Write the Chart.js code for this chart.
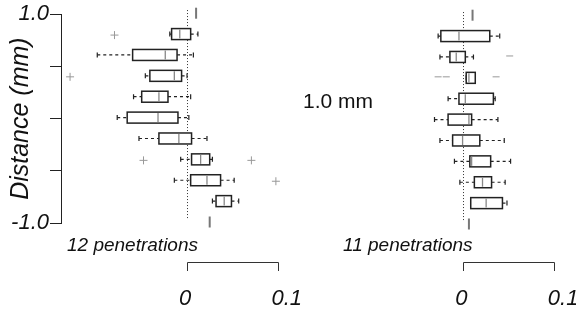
<!DOCTYPE html>
<html>
<head>
<meta charset="utf-8">
<script src="https://cdn.jsdelivr.net/npm/chart.js@4.4.1/dist/chart.umd.min.js"></script>
<style>
  html, body { margin: 0; padding: 0; background: #fff; }
  #wrap { width: 576px; height: 331px; }
</style>
</head>
<body>
<div id="wrap"><canvas id="boxChart" width="576" height="331"></canvas></div>
<script>
// Distance (mm) of each box row, top to bottom
const distances = [1.0, 0.8, 0.6, 0.4, 0.2, 0.0, -0.2, -0.4, -0.6, -0.8, -1.0];

// 12 penetrations (left panel)
const leftLow  = [0.010, -0.019, -0.099, -0.046, -0.059, -0.077, -0.053, -0.007, -0.014, 0.028, 0.025];
const leftQ1   = [0.010, -0.017, -0.060, -0.041, -0.050, -0.066, -0.031,  0.005,  0.004, 0.032, 0.025];
const leftMed  = [0.010, -0.008, -0.024, -0.014, -0.031, -0.032, -0.009,  0.015,  0.022, 0.041, 0.025];
const leftQ3   = [0.010,  0.004, -0.011, -0.006, -0.021, -0.010,  0.005,  0.025,  0.037, 0.049, 0.025];
const leftHigh = [0.010,  0.012,  0.007,  0.000,  0.004,  0.002,  0.022,  0.028,  0.052, 0.057, 0.025];
const leftOutliers = [[0.8, -0.080], [0.4, -0.129], [-0.4, -0.048], [-0.4, 0.071], [-0.6, 0.098]];

// 11 penetrations (right panel)
const rightLow  = [0.010, -0.028, -0.026, 0.003, -0.017, -0.032, -0.026, -0.010, -0.004, 0.008, 0.006];
const rightQ1   = [0.010, -0.025, -0.015, 0.003, -0.005, -0.017, -0.012,  0.007,  0.012, 0.008, 0.006];
const rightMed  = [0.010, -0.005, -0.008, 0.006,  0.002,  0.006, -0.001,  0.009,  0.021, 0.025, 0.006];
const rightQ3   = [0.010,  0.029,  0.002, 0.013,  0.033,  0.009,  0.018,  0.030,  0.031, 0.043, 0.006];
const rightHigh = [0.010,  0.040,  0.011, 0.013,  0.035,  0.038,  0.045,  0.052,  0.046, 0.048, 0.006];
const rightOutliers = [[0.6, 0.051], [0.4, -0.028], [0.4, -0.019], [0.4, 0.036]];

// scale bar under each panel
const barTicks = [0, 0.1];
const barLabels = ['0', '0.1'];

const FONT = "'Liberation Sans', Arial, sans-serif";
const INK = '#222';

const panels = [
  { axis: 'xL', low: leftLow, q1: leftQ1, med: leftMed, q3: leftQ3, high: leftHigh, note: '12 penetrations', dy: -1 },
  { axis: 'xR', low: rightLow, q1: rightQ1, med: rightMed, q3: rightQ3, high: rightHigh, note: '11 penetrations', dy: 1 }
];

const boxPlot = {
  id: 'boxPlot',
  beforeDatasetsDraw(chart) {
    const { ctx, scales } = chart;
    const y = scales.y;
    ctx.save();
    // dotted zero line in each panel
    ctx.strokeStyle = '#333';
    ctx.lineWidth = 1;
    ctx.setLineDash([1, 2]);
    panels.forEach(p => {
      const x0 = Math.round(scales[p.axis].getPixelForValue(0)) + 0.5;
      ctx.beginPath();
      ctx.moveTo(x0, y.getPixelForValue(1.03) + p.dy);
      ctx.lineTo(x0, y.getPixelForValue(-0.97) + p.dy);
      ctx.stroke();
    });
    ctx.setLineDash([]);

    panels.forEach(p => {
      const xs = scales[p.axis];
      distances.forEach((d, i) => {
        const yc = y.getPixelForValue(d) + p.dy;
        const h = 5.5;
        const lo = xs.getPixelForValue(p.low[i]);
        const a = xs.getPixelForValue(p.q1[i]);
        const m = xs.getPixelForValue(p.med[i]);
        const b = xs.getPixelForValue(p.q3[i]);
        const hi = xs.getPixelForValue(p.high[i]);
        if (p.q1[i] === p.q3[i] && p.low[i] === p.high[i]) {
          // all values equal: just a grey mark
          ctx.strokeStyle = '#777';
          ctx.lineWidth = 2;
          ctx.beginPath();
          ctx.moveTo(m, yc - h); ctx.lineTo(m, yc + h);
          ctx.stroke();
          return;
        }
        // whiskers
        ctx.strokeStyle = INK;
        ctx.lineWidth = 1.2;
        ctx.setLineDash([3, 3]);
        ctx.beginPath();
        ctx.moveTo(lo, yc); ctx.lineTo(a, yc);
        ctx.moveTo(b, yc); ctx.lineTo(hi, yc);
        ctx.stroke();
        ctx.setLineDash([]);
        ctx.beginPath();
        ctx.moveTo(lo, yc - 2.5); ctx.lineTo(lo, yc + 2.5);
        ctx.moveTo(hi, yc - 2.5); ctx.lineTo(hi, yc + 2.5);
        ctx.stroke();
        // box
        ctx.fillStyle = '#fff';
        ctx.fillRect(a, yc - h, b - a, 2 * h);
        ctx.lineWidth = 1.5;
        ctx.strokeRect(a, yc - h, b - a, 2 * h);
        // median
        ctx.strokeStyle = '#888';
        ctx.lineWidth = 1.3;
        ctx.beginPath();
        ctx.moveTo(m, yc - h + 1); ctx.lineTo(m, yc + h - 1);
        ctx.stroke();
      });
    });
    ctx.restore();
  },
  afterDraw(chart) {
    const { ctx, scales } = chart;
    ctx.save();
    ctx.fillStyle = '#111';
    ctx.textBaseline = 'alphabetic';
    ctx.textAlign = 'left';
    ctx.font = 'italic 19px ' + FONT;
    ctx.fillText(panels[0].note, 67, 251);
    ctx.fillText(panels[1].note, 343, 251);
    ctx.font = '21px ' + FONT;
    ctx.fillText('1.0 mm', 303, 108);

    // scale bars
    const labelShift = [-2, 9];
    panels.forEach(p => {
      const xs = scales[p.axis];
      const x0 = Math.round(xs.getPixelForValue(barTicks[0])) + 0.5;
      const x1 = Math.round(xs.getPixelForValue(barTicks[1])) + 0.5;
      ctx.strokeStyle = '#333';
      ctx.lineWidth = 1;
      ctx.beginPath();
      ctx.moveTo(x0, 271); ctx.lineTo(x0, 262.5); ctx.lineTo(x1, 262.5); ctx.lineTo(x1, 271);
      ctx.stroke();
      ctx.font = 'italic 22px ' + FONT;
      ctx.textAlign = 'center';
      barTicks.forEach((t, k) => {
        ctx.fillText(barLabels[k], xs.getPixelForValue(t) + labelShift[k], 305);
      });
    });
    ctx.restore();
  }
};

const ctx = document.getElementById('boxChart').getContext('2d');
const chart = new Chart(ctx, {
  type: 'scatter',
  data: {
    datasets: [{
      label: 'outliers (12)',
      data: leftOutliers.map(o => ({ x: o[1], y: o[0] })),
      xAxisID: 'xL',
      pointStyle: 'cross',
      pointRadius: 4,
      borderColor: '#999',
      borderWidth: 1
    }, {
      label: 'outliers (11)',
      data: rightOutliers.map(o => ({ x: o[1], y: o[0] })),
      xAxisID: 'xR',
      pointStyle: 'line',
      pointRadius: 3.5,
      borderColor: '#999',
      borderWidth: 1
    }]
  },
  options: {
    responsive: false,
    animation: false,
    layout: { autoPadding: false, padding: { top: 13, bottom: 108, left: 0, right: 0 } },
    plugins: {
      legend: { display: false },
      tooltip: { enabled: false }
    },
    scales: {
      xL: { type: 'linear', axis: 'x', position: 'bottom', display: false, min: -0.139, max: 0.429 },
      xR: { type: 'linear', axis: 'x', position: 'bottom', display: false, min: -0.4443, max: 0.1242 },
      y: {
        type: 'linear',
        position: 'left',
        min: -1,
        max: 1,
        afterFit(scale) { scale.width = 61; },
        ticks: {
          stepSize: 0.5,
          autoSkip: false,
          padding: 1,
          color: '#111',
          font: { family: FONT, size: 22, style: 'italic' },
          callback: v => (v === 1 ? '1.0' : v === -1 ? '-1.0' : '')
        },
        grid: { drawOnChartArea: false, tickLength: 11, color: INK },
        border: { color: INK, width: 1 },
        title: {
          display: true,
          text: 'Distance (mm)',
          color: '#111',
          font: { family: FONT, size: 25, style: 'italic' },
          padding: { top: 6, bottom: 0 }
        }
      }
    }
  },
  plugins: [boxPlot]
});
</script>
</body>
</html>
